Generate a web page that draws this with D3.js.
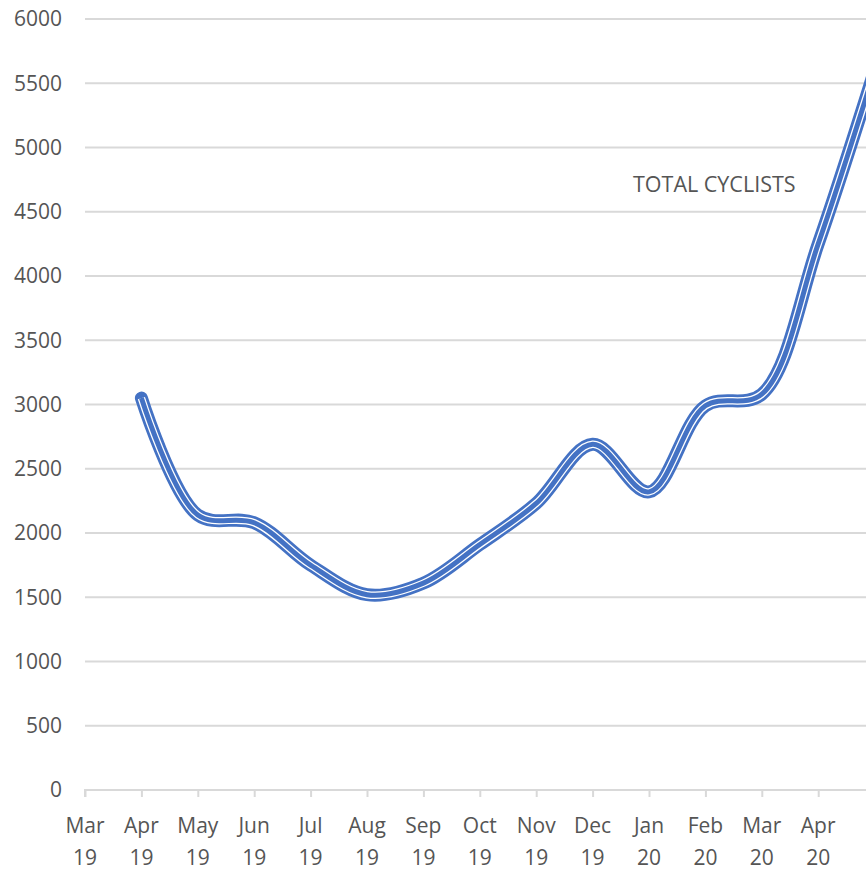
<!DOCTYPE html>
<html>
<head>
<meta charset="utf-8">
<script src="https://cdn.jsdelivr.net/npm/d3@7"></script>
<style>
  body { margin: 0; background: #fff; }
  svg text { font-family: "Open Sans", "Noto Sans", sans-serif; fill: #555555; }
</style>
</head>
<body>
<div id="chart"></div>
<script>
// chart data
var months = ["Mar", "Apr", "May", "Jun", "Jul", "Aug", "Sep", "Oct", "Nov", "Dec", "Jan", "Feb", "Mar", "Apr", "May"];
var years = ["19", "19", "19", "19", "19", "19", "19", "19", "19", "19", "20", "20", "20", "20", "20"];
var cyclists = [null, 3050, 2140, 2080, 1750, 1520, 1610, 1910, 2230, 2690, 2320, 2990, 3080, 4250, 5600];
var yTicks = [0, 500, 1000, 1500, 2000, 2500, 3000, 3500, 4000, 4500, 5000, 5500, 6000];
var seriesName = "TOTAL CYCLISTS";

var svgWidth = 866;
var svgHeight = 871;

var margin = { top: 19, right: 0, bottom: 81, left: 85 };
var plotBottom = svgHeight - margin.bottom;
var step = 56.4;

var svg = d3.select("#chart")
  .append("svg")
  .attr("width", svgWidth)
  .attr("height", svgHeight);

var categories = months.map((m, i) => m + " " + years[i]);

// x scale: one point per month, last one falls just past the right edge
var xScale = d3.scalePoint()
  .domain(categories)
  .range([margin.left, margin.left + step * (categories.length - 1)]);

var yScale = d3.scaleLinear()
  .domain([0, 6000])
  .range([plotBottom, margin.top]);

// only the categories that fit inside the picture get a label
var shownCats = categories.filter(c => xScale(c) < svgWidth - 20);

// gridlines
svg.append("g")
  .selectAll("line")
  .data(yTicks.filter(d => d > 0))
  .enter()
  .append("line")
  .attr("x1", margin.left)
  .attr("x2", svgWidth)
  .attr("y1", d => yScale(d))
  .attr("y2", d => yScale(d))
  .attr("stroke", "#d9d9d9")
  .attr("stroke-width", 2);

// y labels
svg.append("g")
  .selectAll("text")
  .data(yTicks)
  .enter()
  .append("text")
  .attr("x", 62)
  .attr("y", d => yScale(d))
  .attr("dy", "0.35em")
  .attr("text-anchor", "end")
  .style("font-size", "21px")
  .text(d => d);

// x axis
var bottomAxis = d3.axisBottom(xScale)
  .tickValues(shownCats)
  .tickSize(7)
  .tickFormat("");

var xAxis = svg.append("g")
  .attr("transform", `translate(0, ${plotBottom})`)
  .call(bottomAxis);

xAxis.select(".domain")
  .attr("d", `M${margin.left},7V0H${svgWidth}`)
  .attr("stroke", "#d9d9d9")
  .attr("stroke-width", 2);
xAxis.selectAll(".tick line")
  .attr("stroke", "#d9d9d9")
  .attr("stroke-width", 2);

var xLabels = svg.append("g")
  .selectAll("text")
  .data(shownCats)
  .enter()
  .append("text")
  .attr("x", d => xScale(d))
  .attr("text-anchor", "middle")
  .style("font-size", "21px");

xLabels.append("tspan")
  .attr("x", d => xScale(d))
  .attr("y", 833)
  .text((d, i) => months[i]);
xLabels.append("tspan")
  .attr("x", d => xScale(d))
  .attr("y", 865)
  .text((d, i) => years[i]);

// smoothed line, drawn as a thin-thick-thin compound stroke
var points = categories.map((c, i) => ({ cat: c, value: cyclists[i] }))
  .filter(d => d.value !== null);

var line = d3.line()
  .x(d => xScale(d.cat))
  .y(d => yScale(d.value))
  .curve(d3.curveCatmullRom.alpha(0.5));

var lineGroup = svg.append("g").attr("fill", "none");

lineGroup.append("path")
  .attr("d", line(points))
  .attr("stroke", "#4472c4")
  .attr("stroke-width", 13)
  .attr("stroke-linecap", "round")
  .attr("stroke-linejoin", "round");

lineGroup.append("path")
  .attr("d", line(points))
  .attr("stroke", "#ffffff")
  .attr("stroke-width", 7.5)
  .attr("stroke-linecap", "butt");

lineGroup.append("path")
  .attr("d", line(points))
  .attr("stroke", "#4472c4")
  .attr("stroke-width", 5)
  .attr("stroke-linecap", "butt");

// series label
svg.append("text")
  .attr("x", 633)
  .attr("y", 192)
  .style("font-size", "21.5px")
  .text(seriesName);
</script>
</body>
</html>
